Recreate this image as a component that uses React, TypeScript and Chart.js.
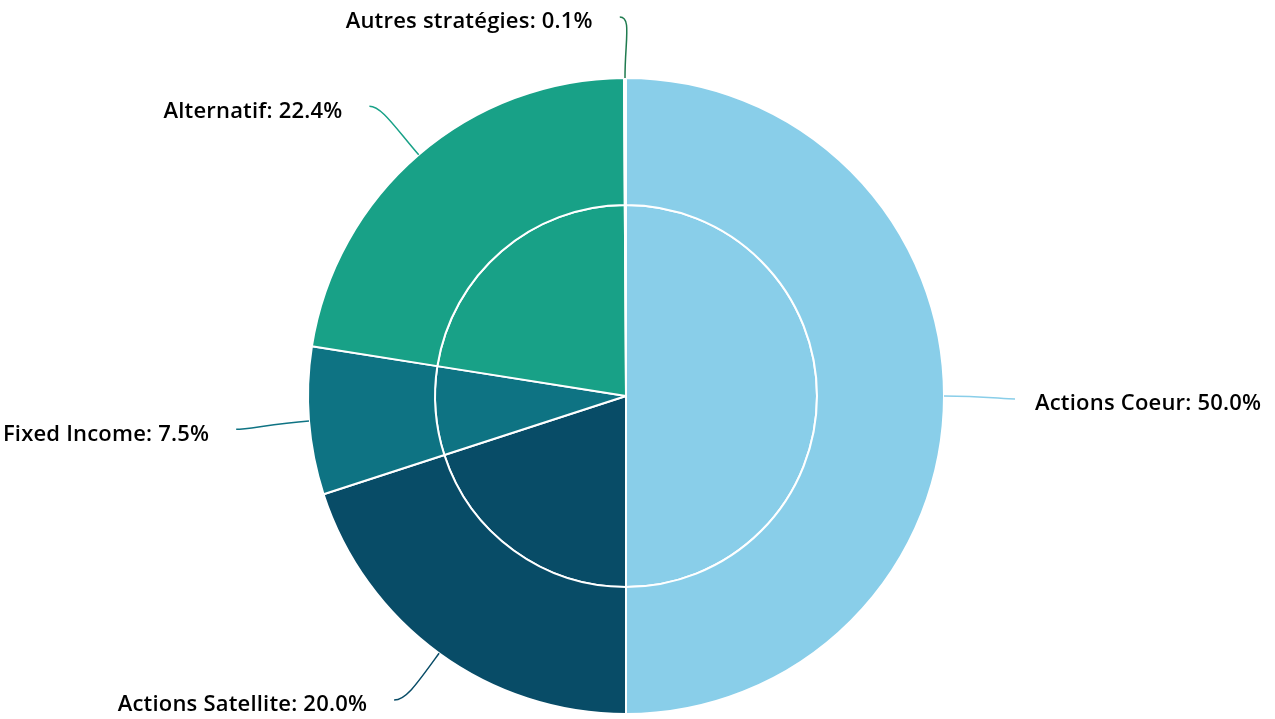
import React, { useEffect, useRef } from "react";
import { Chart, registerables } from "chart.js";

Chart.register(...registerables);

const categories = ["Actions Coeur", "Actions Satellite", "Fixed Income", "Alternatif", "Autres stratégies"];
const values = [50.0, 20.0, 7.5, 22.4, 0.1];
const colors = ["#89CEE9", "#084C67", "#0E7383", "#18A187", "#1F7B4F"];

const labelPlugin = {
  id: "sideLabels",
  afterDraw(chart: any) {
    const ctx = chart.ctx as CanvasRenderingContext2D;
    const meta = chart.getDatasetMeta(0);
    const dist = 68;
    const H = chart.height;
    ctx.save();
    ctx.font = "600 22px 'Open Sans'";
    (ctx as any).letterSpacing = "0.2px";
    meta.data.forEach((arc: any, i: number) => {
      const { x, y, startAngle, endAngle, outerRadius } = arc.getProps(["x", "y", "startAngle", "endAngle", "outerRadius"], true);
      const mid = (startAngle + endAngle) / 2;
      const dx = Math.cos(mid);
      const dy = Math.sin(mid);
      const r = outerRadius;
      const ex = x + dx * r;
      const ey = y + dy * r;
      const left = dx < 0.001;
      const lx = x + dx * (r + dist) + (left ? -5 : 3);
      let ly = y + dy * (r + dist) + 3;
      if (ly < 17) ly = 17;
      if (ly > H - 19) ly = H - 19;
      const c1x = x + dx * (r + dist * 0.55);
      const c1y = y + dy * (r + dist * 0.55);
      const c2x = lx + (left ? 12 : -12);
      const c2y = ly;
      ctx.strokeStyle = colors[i];
      ctx.lineWidth = 1.5;
      ctx.beginPath();
      ctx.moveTo(ex, ey);
      ctx.bezierCurveTo(c1x, c1y, c2x, c2y, lx, ly);
      ctx.stroke();
      ctx.fillStyle = "#000000";
      ctx.textBaseline = "middle";
      ctx.textAlign = left ? "right" : "left";
      const tx = lx + (left ? -27 : 20);
      ctx.fillText(`${categories[i]}: ${values[i].toFixed(1)}%`, tx, ly + 5);
    });
    ctx.restore();
  },
};

export default function App() {
  const ref = useRef<HTMLCanvasElement>(null);
  useEffect(() => {
    const chart = new Chart(ref.current as HTMLCanvasElement, {
      type: "pie",
      data: {
        labels: categories,
        datasets: [
          { data: values, backgroundColor: colors, borderColor: "#ffffff", borderWidth: 2, weight: 127 } as any,
          { data: values, backgroundColor: colors, borderColor: "#ffffff", borderWidth: 2, weight: 191 } as any,
        ],
      },
      options: {
        animation: false,
        responsive: false,
        layout: { padding: { left: 307, right: 330, top: 77, bottom: 4 } },
        plugins: { legend: { display: false }, tooltip: { enabled: false } },
      },
      plugins: [labelPlugin],
    });
    return () => chart.destroy();
  }, []);
  return (
    <div style={{ position: "fixed", left: 0, top: 0, width: 1275, height: 719, background: "#fff" }}>
      <canvas ref={ref} width={1275} height={719} style={{ width: 1275, height: 719 }} />
    </div>
  );
}
